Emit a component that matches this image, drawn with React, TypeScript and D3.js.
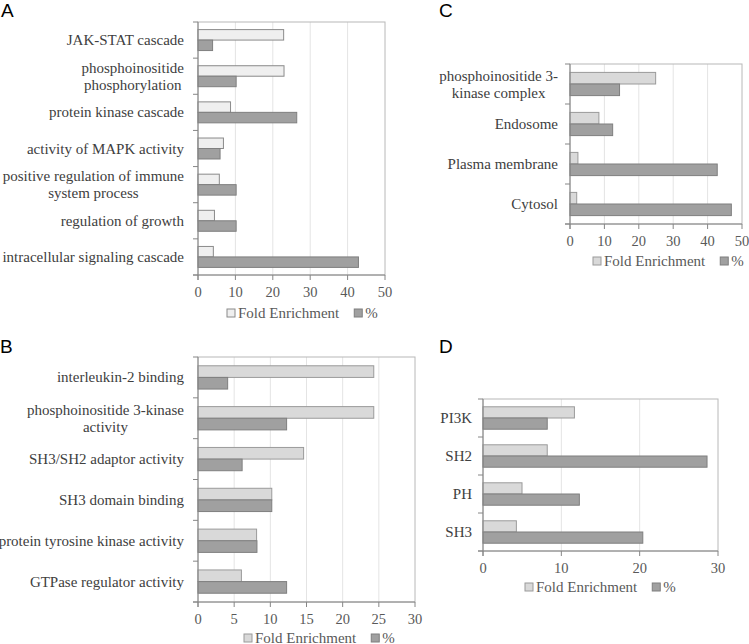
import React, { useEffect, useRef } from 'react';
import * as d3 from 'd3';

// ---- Data ----
const aCategories = [
  'JAK-STAT cascade',
  'phosphoinositide\nphosphorylation',
  'protein kinase cascade',
  'activity of MAPK activity',
  'positive regulation of immune\nsystem process',
  'regulation of growth',
  'intracellular signaling cascade',
];
const aFold = [22.9, 23.0, 8.7, 6.8, 5.7, 4.4, 4.1];
const aPercent = [3.9, 10.2, 26.4, 5.9, 10.2, 10.2, 42.9];
const aTicks = [0, 10, 20, 30, 40, 50];

const bCategories = [
  'interleukin-2 binding',
  'phosphoinositide 3-kinase\nactivity',
  'SH3/SH2 adaptor activity',
  'SH3 domain binding',
  'protein tyrosine kinase activity',
  'GTPase regulator activity',
];
const bFold = [24.3, 24.3, 14.6, 10.2, 8.1, 6.0];
const bPercent = [4.1, 12.25, 6.1, 10.2, 8.15, 12.25];
const bTicks = [0, 5, 10, 15, 20, 25, 30];

const cCategories = [
  'phosphoinositide 3-\nkinase complex',
  'Endosome',
  'Plasma membrane',
  'Cytosol',
];
const cFold = [24.9, 8.4, 2.3, 1.95];
const cPercent = [14.4, 12.4, 42.8, 46.9];
const cTicks = [0, 10, 20, 30, 40, 50];

const dCategories = ['PI3K', 'SH2', 'PH', 'SH3'];
const dFold = [11.67, 8.2, 4.98, 4.26];
const dPercent = [8.2, 28.6, 12.3, 20.4];
const dTicks = [0, 10, 20, 30];

const seriesNames = ['Fold Enrichment', '%'];
const panelLetters = ['A', 'B', 'C', 'D'];

const SERIF = "'Liberation Serif', 'Times New Roman', serif";
const SANS = "'Liberation Sans', Arial, sans-serif";

interface Panel {
  letter: string;
  letterX: number;
  letterY: number;
  categories: string[];
  fold: number[];
  pct: number[];
  ticks: number[];
  x0: number; x1: number; y0: number; y1: number;
  pad: number;
  labelX: number;
  legendX: number;
  legendY: number;
  foldFill: string;
  foldStroke: string;
}

const panels: Panel[] = [
  { letter: panelLetters[0], letterX: 1, letterY: 17, categories: aCategories, fold: aFold, pct: aPercent, ticks: aTicks,
    x0: 198, x1: 385, y0: 22, y1: 275, pad: 0.42, labelX: 184, legendX: 227, legendY: 313, foldFill: '#efefef', foldStroke: '#8a8a8a' },
  { letter: panelLetters[1], letterX: 0, letterY: 353, categories: bCategories, fold: bFold, pct: bPercent, ticks: bTicks,
    x0: 198, x1: 415, y0: 357, y1: 602, pad: 0.43, labelX: 184, legendX: 244, legendY: 638, foldFill: '#d9d9d9', foldStroke: '#9a9a9a' },
  { letter: panelLetters[2], letterX: 439, letterY: 17, categories: cCategories, fold: cFold, pct: cPercent, ticks: cTicks,
    x0: 570, x1: 742, y0: 64, y1: 224, pad: 0.42, labelX: 558, legendX: 593, legendY: 261, foldFill: '#d9d9d9', foldStroke: '#9a9a9a' },
  { letter: panelLetters[3], letterX: 439, letterY: 353, categories: dCategories, fold: dFold, pct: dPercent, ticks: dTicks,
    x0: 483, x1: 718, y0: 399, y1: 551, pad: 0.41, labelX: 472, legendX: 525, legendY: 587, foldFill: '#d9d9d9', foldStroke: '#9a9a9a' },
];

const PCT_FILL = '#a0a0a0';
const PCT_STROKE = '#7f7f7f';

function drawPanel(svg: d3.Selection<SVGSVGElement, unknown, null, undefined>, p: Panel) {
  const g = svg.append('g');
  const maxV = p.ticks[p.ticks.length - 1];
  const x = d3.scaleLinear().domain([0, maxV]).range([p.x0, p.x1]);
  const y = d3.scaleBand<string>().domain(p.categories).range([p.y0, p.y1])
    .paddingInner(p.pad).paddingOuter(p.pad / 2);
  const ys = d3.scaleBand<string>().domain(['fold', 'pct']).range([0, y.bandwidth()]);

  // panel letter
  g.append('text').attr('x', p.letterX).attr('y', p.letterY).text(p.letter)
    .attr('font-family', SANS).attr('font-size', 19).attr('fill', '#000');

  // gridlines
  g.selectAll('line.grid').data(p.ticks.filter(t => t > 0 && t < maxV)).enter().append('line')
    .attr('x1', d => x(d)).attr('x2', d => x(d)).attr('y1', p.y0).attr('y2', p.y1)
    .attr('stroke', '#e4e4e4').attr('stroke-width', 1);

  // plot border
  g.append('rect').attr('x', p.x0).attr('y', p.y0).attr('width', p.x1 - p.x0).attr('height', p.y1 - p.y0)
    .attr('fill', 'none').attr('stroke', '#b8b8b8').attr('stroke-width', 1);

  // bars
  const rows = p.categories.map((c, i) => ({ c, fold: p.fold[i], pct: p.pct[i] }));
  g.selectAll('rect.fold').data(rows).enter().append('rect')
    .attr('x', x(0)).attr('y', d => (y(d.c) as number) + (ys('fold') as number))
    .attr('width', d => x(d.fold) - x(0)).attr('height', ys.bandwidth())
    .attr('fill', p.foldFill).attr('stroke', p.foldStroke).attr('stroke-width', 1);
  g.selectAll('rect.pct').data(rows).enter().append('rect')
    .attr('x', x(0)).attr('y', d => (y(d.c) as number) + (ys('pct') as number))
    .attr('width', d => x(d.pct) - x(0)).attr('height', ys.bandwidth())
    .attr('fill', PCT_FILL).attr('stroke', PCT_STROKE).attr('stroke-width', 1);

  // left axis
  g.append('line').attr('x1', p.x0).attr('x2', p.x0).attr('y1', p.y0).attr('y2', p.y1 + 5)
    .attr('stroke', '#868686');
  const step = y.step();
  const bounds = d3.range(p.categories.length + 1).map(i => p.y0 + i * step);
  g.selectAll('line.ytick').data(bounds).enter().append('line')
    .attr('x1', p.x0 - 5).attr('x2', p.x0).attr('y1', d => d).attr('y2', d => d)
    .attr('stroke', '#868686');

  // bottom axis
  g.append('line').attr('x1', p.x0 - 5).attr('x2', p.x1).attr('y1', p.y1).attr('y2', p.y1)
    .attr('stroke', '#868686');
  g.selectAll('line.xtick').data(p.ticks).enter().append('line')
    .attr('x1', d => x(d)).attr('x2', d => x(d)).attr('y1', p.y1).attr('y2', p.y1 + 5)
    .attr('stroke', '#868686');
  g.selectAll('text.xtl').data(p.ticks).enter().append('text')
    .attr('x', d => x(d)).attr('y', p.y1 + 17).attr('text-anchor', 'middle')
    .attr('dominant-baseline', 'central')
    .attr('font-family', SERIF).attr('font-size', 14.5).attr('fill', '#595959')
    .text(d => String(d));

  // category labels
  p.categories.forEach(c => {
    const lines = c.split('\n');
    const cy = (y(c) as number) + y.bandwidth() / 2;
    const texts = lines.map((ln, i) => g.append('text')
      .attr('y', cy + (i - (lines.length - 1) / 2) * 17)
      .attr('dominant-baseline', 'central').attr('text-anchor', 'middle')
      .attr('font-family', SERIF).attr('font-size', 15).attr('fill', '#404040')
      .text(ln));
    const maxW = d3.max(texts, t => (t.node() as SVGTextElement).getComputedTextLength()) || 0;
    texts.forEach(t => t.attr('x', p.labelX - maxW / 2));
  });

  // legend
  const box = 8;
  const lg = g.append('g');
  lg.append('rect').attr('x', p.legendX).attr('y', p.legendY - box / 2).attr('width', box).attr('height', box)
    .attr('fill', p.foldFill).attr('stroke', p.foldStroke);
  const t1 = lg.append('text').attr('x', p.legendX + box + 3).attr('y', p.legendY)
    .attr('dominant-baseline', 'central').attr('font-family', SERIF).attr('font-size', 15).attr('fill', '#595959')
    .text(seriesNames[0]);
  const w1 = (t1.node() as SVGTextElement).getComputedTextLength();
  const x2 = p.legendX + box + 3 + w1 + 15;
  lg.append('rect').attr('x', x2).attr('y', p.legendY - box / 2).attr('width', box).attr('height', box)
    .attr('fill', PCT_FILL).attr('stroke', PCT_STROKE);
  lg.append('text').attr('x', x2 + box + 3).attr('y', p.legendY)
    .attr('dominant-baseline', 'central').attr('font-family', SERIF).attr('font-size', 15).attr('fill', '#595959')
    .text(seriesNames[1]);
}

export default function App() {
  const ref = useRef<SVGSVGElement>(null);
  useEffect(() => {
    if (!ref.current) return;
    const svg = d3.select(ref.current);
    svg.selectAll('*').remove();
    svg.append('rect').attr('width', 749).attr('height', 644).attr('fill', '#fff');
    panels.forEach(p => drawPanel(svg as any, p));
  }, []);
  return (
    <svg ref={ref} width={749} height={644}
      style={{ position: 'absolute', left: 0, top: 0, display: 'block' }} />
  );
}
